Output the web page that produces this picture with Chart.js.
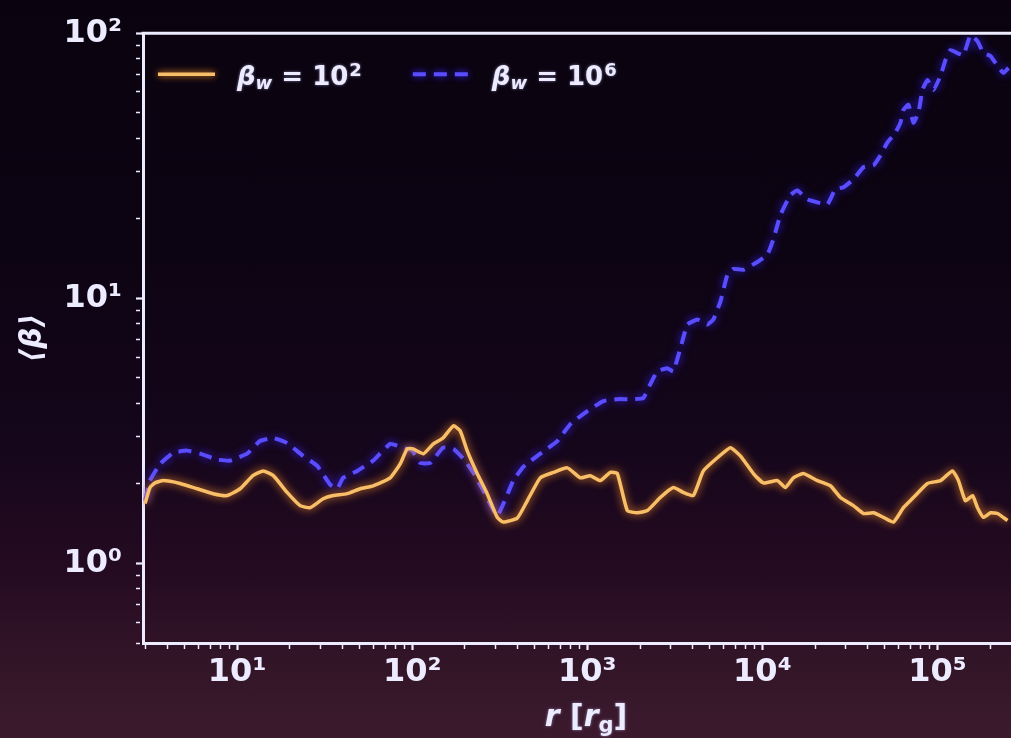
<!DOCTYPE html>
<html>
<head>
<meta charset="utf-8">
<script src="https://cdn.jsdelivr.net/npm/chart.js@4.4.1/dist/chart.umd.min.js"></script>
<style>
  html, body {
    margin: 0; padding: 0; width: 1011px; height: 738px; overflow: hidden;
    background: linear-gradient(180deg, #0a030f 0%, #0d0413 35%, #15061b 60%, #250b22 78%, #331528 90%, #3c1a2e 100%);
  }
  canvas { display: block; }
</style>
</head>
<body>
<canvas id="c" width="1040" height="738"></canvas>
<script>
// Mean plasma beta versus radius for two wind magnetisations.
const rWeak = [2.98, 3.18, 3.40, 3.78, 4.72, 5.91, 7.29, 8.77, 10.4, 12.3,
  14.1, 16.1, 19.3, 22.9, 26.1, 31.0, 35.4, 42.5, 50.5, 59.9,
  74.9, 85.4, 93.6, 101, 116, 132, 150, 172, 188, 206,
  235, 268, 306, 331, 398, 454, 539, 639, 769, 912,
  1040, 1187, 1353, 1484, 1693, 1931, 2203, 2612, 3101, 3537,
  4034, 4601, 5532, 6563, 7485, 8885, 10130, 12180, 13530, 15030,
  17150, 20620, 24470, 27910, 33110, 37770, 43080, 49130, 56070, 63930,
  72930, 87670, 104000, 121800, 131800, 144500, 158500, 169300, 183200, 200900,
  220300, 251200];
const betaWeak = [1.68, 1.93, 2.01, 2.05, 2.00, 1.91, 1.83, 1.80, 1.91, 2.14,
  2.23, 2.14, 1.85, 1.65, 1.62, 1.75, 1.80, 1.83, 1.91, 1.96,
  2.10, 2.37, 2.70, 2.70, 2.59, 2.82, 2.97, 3.30, 3.16, 2.66,
  2.18, 1.83, 1.49, 1.43, 1.48, 1.72, 2.10, 2.20, 2.29, 2.10,
  2.14, 2.05, 2.20, 2.18, 1.58, 1.55, 1.58, 1.77, 1.93, 1.85,
  1.80, 2.23, 2.50, 2.73, 2.54, 2.18, 2.01, 2.05, 1.93, 2.10,
  2.18, 2.05, 1.96, 1.77, 1.65, 1.54, 1.55, 1.49, 1.43, 1.62,
  1.77, 2.00, 2.05, 2.23, 2.05, 1.72, 1.80, 1.62, 1.49, 1.55,
  1.54, 1.45];

const rStrong = [2.98, 3.18, 3.63, 4.31, 5.18, 6.15, 7.69, 9.12, 11.4, 13.5,
  16.1, 19.3, 23.8, 28.7, 34.0, 37.3, 40.3, 48.5, 59.9, 74.9,
  88.8, 100, 111, 127, 150, 172, 196, 223, 255, 306,
  378, 431, 539, 674, 800, 1000, 1234, 1484, 1761, 2089,
  2291, 2512, 2865, 3101, 3400, 3727, 4252, 4850, 5248, 5754,
  6310, 6827, 7789, 9363, 10680, 11560, 12670, 14450, 15850, 18080,
  20620, 23520, 26130, 29030, 33110, 37770, 43080, 47230, 51810, 57540,
  61470, 63930, 68270, 72930, 77880, 82100, 87670, 94870, 104000, 111100,
  118700, 130100, 140800, 154400, 169300, 183200, 200900, 220300, 238300, 254500];
const betaStrong = [1.72, 2.05, 2.37, 2.61, 2.66, 2.59, 2.46, 2.44, 2.59, 2.89,
  2.97, 2.84, 2.54, 2.33, 1.98, 1.91, 2.10, 2.23, 2.44, 2.82,
  2.73, 2.66, 2.39, 2.39, 2.73, 2.70, 2.48, 2.20, 1.88, 1.51,
  2.05, 2.31, 2.59, 2.89, 3.35, 3.75, 4.09, 4.16, 4.16, 4.20,
  4.74, 5.30, 5.44, 5.30, 6.46, 7.95, 8.31, 7.95, 8.31, 9.70,
  12.25, 12.9, 12.8, 13.7, 14.6, 16.7, 20.6, 24.5, 25.5, 23.6,
  23.0, 22.6, 25.8, 26.2, 28.1, 31.2, 31.7, 34.6, 38.7, 42.2,
  46.0, 51.4, 53.7, 46.0, 50.1, 61.1, 66.6, 61.1, 69.0, 79.2,
  86.4, 84.1, 82.7, 98.3, 93.3, 84.1, 82.0, 75.2, 70.8, 73.9];

const seriesExponents = ['2', '6'];          // beta_w = 10^2, 10^6
const seriesLabels = ['βw = 10²', 'βw = 10⁶'];
const rRange = [2.9, 3e5];
const betaRange = [0.5, 100];

const FONT = "'DejaVu Sans', sans-serif";
const INK = '#ecebff';
const ORANGE = '#f8bf68';
const ORANGE_GLOW = 'rgba(255,150,40,0.95)';
const BLUE = '#5a4dff';
const BLUE_GLOW = 'rgba(55,35,255,1)';

const SUP = '⁰¹²³⁴⁵⁶⁷⁸⁹';
const supDigits = n => String(n).split('').map(d => SUP[+d]).join('');
const isDecade = v => { const e = Math.log10(v); return Math.abs(e - Math.round(e)) < 1e-6; };
function logTicks(min, max) {
  const out = [];
  for (let e = Math.floor(Math.log10(min)); e <= Math.ceil(Math.log10(max)); e++) {
    for (let k = 1; k < 10; k++) {
      const v = k * Math.pow(10, e);
      if (v >= min * 0.9999 && v <= max * 1.0001) out.push({ value: v, major: k === 1 });
    }
  }
  return out;
}
const decadeLabel = v => isDecade(v) ? '10' + supDigits(Math.round(Math.log10(v))) : '';

// soft halo round each curve
const glow = {
  id: 'glow',
  beforeDatasetDraw(chart, args) {
    const ctx = chart.ctx;
    ctx.save();
    ctx.shadowColor = chart.data.datasets[args.index].glowColor;
    ctx.shadowBlur = 9;
  },
  afterDatasetDraw(chart) { chart.ctx.restore(); }
};

// top and right edges of the axes box
const frame = {
  id: 'frame',
  afterDraw(chart) {
    const { ctx, chartArea: a } = chart;
    ctx.save();
    ctx.strokeStyle = INK; ctx.lineWidth = 3;
    ctx.beginPath();
    ctx.moveTo(a.left - 1.5, a.top); ctx.lineTo(a.right, a.top); ctx.lineTo(a.right, a.bottom);
    ctx.stroke();
    ctx.restore();
  }
};

// legend inside the axes, with sub- and superscripts
const richLegend = {
  id: 'richLegend',
  afterDraw(chart) {
    const { ctx, chartArea: a } = chart;
    const y = a.top + 41;
    let x = a.left + 15;
    ctx.save();
    chart.data.datasets.forEach((ds, i) => {
      ctx.save();
      ctx.strokeStyle = ds.borderColor; ctx.lineWidth = ds.borderWidth;
      ctx.setLineDash(ds.borderDash || []);
      ctx.shadowColor = ds.glowColor; ctx.shadowBlur = 7;
      ctx.beginPath(); ctx.moveTo(x, y); ctx.lineTo(x + 57, y); ctx.stroke();
      ctx.restore();
      x += 57 + 22;
      ctx.fillStyle = INK;
      ctx.shadowColor = 'rgba(200,200,255,0.6)'; ctx.shadowBlur = 3;
      ctx.textBaseline = 'alphabetic'; ctx.textAlign = 'left';
      ctx.font = `italic bold 26px ${FONT}`;
      ctx.fillText('β', x, y + 11); x += ctx.measureText('β').width;
      ctx.font = `italic bold 18px ${FONT}`;
      ctx.fillText('w', x, y + 15); x += ctx.measureText('w').width;
      ctx.font = `bold 26px ${FONT}`;
      ctx.fillText(' = 10', x, y + 11); x += ctx.measureText(' = 10').width;
      ctx.font = `bold 18px ${FONT}`;
      ctx.fillText(seriesExponents[i], x + 1, y + 2); x += ctx.measureText(seriesExponents[i]).width + 1;
      x += 51;
    });
    ctx.restore();
  }
};

// x-axis title r [r_g]
const xTitle = {
  id: 'xTitle',
  afterDraw(chart) {
    const { ctx, chartArea: a } = chart;
    const parts = [
      { t: 'r', f: `italic bold 30px ${FONT}`, dy: 0 },
      { t: ' [', f: `bold 30px ${FONT}`, dy: 0 },
      { t: 'r', f: `italic bold 30px ${FONT}`, dy: 0 },
      { t: 'g', f: `bold 21px ${FONT}`, dy: 6 },
      { t: ']', f: `bold 30px ${FONT}`, dy: 0 }
    ];
    ctx.save();
    let w = 0;
    parts.forEach(p => { ctx.font = p.f; p.w = ctx.measureText(p.t).width; w += p.w; });
    let x = (a.left + a.right) / 2 + 4 - w / 2;
    const base = chart.height - 12;
    ctx.fillStyle = INK; ctx.textBaseline = 'alphabetic'; ctx.textAlign = 'left';
    ctx.shadowColor = 'rgba(200,200,255,0.6)'; ctx.shadowBlur = 3;
    parts.forEach(p => { ctx.font = p.f; ctx.fillText(p.t, x, base + p.dy); x += p.w; });
    ctx.restore();
  }
};

const axisCommon = {
  type: 'logarithmic',
  border: { display: true, color: INK, width: 3 },
  grid: {
    display: true, drawOnChartArea: false, drawTicks: true, tickLength: 7,
    tickColor: INK,
    tickWidth: c => (c.tick && isDecade(c.tick.value)) ? 2.2 : 1.5,
    tickBorderDash: c => (c.tick && isDecade(c.tick.value)) ? [] : [4, 30]
  },
  afterBuildTicks: s => { s.ticks = logTicks(s.min, s.max); }
};

new Chart(document.getElementById('c'), {
  type: 'line',
  data: {
    datasets: [
      {
        label: seriesLabels[0],
        data: rWeak.map((r, i) => ({ x: r, y: betaWeak[i] })),
        borderColor: ORANGE, glowColor: ORANGE_GLOW, borderWidth: 3.5,
        pointRadius: 0, tension: 0.15, fill: false
      },
      {
        label: seriesLabels[1],
        data: rStrong.map((r, i) => ({ x: r, y: betaStrong[i] })),
        borderColor: BLUE, glowColor: BLUE_GLOW, borderWidth: 4, borderDash: [13, 8],
        pointRadius: 0, tension: 0.12, fill: false
      }
    ]
  },
  options: {
    responsive: false, animation: false, devicePixelRatio: 1,
    layout: { padding: { top: 29, right: 19, bottom: 0, left: 0 } },
    plugins: { legend: { display: false }, tooltip: { enabled: false } },
    scales: {
      x: Object.assign({}, axisCommon, {
        min: rRange[0], max: rRange[1],
        ticks: {
          autoSkip: false, maxRotation: 0, padding: 3, color: INK,
          font: { family: FONT, size: 32, weight: 'bold' },
          callback: v => decadeLabel(v)
        },
        afterFit: s => { s.height = 95; }
      }),
      y: Object.assign({}, axisCommon, {
        min: betaRange[0], max: betaRange[1],
        ticks: {
          autoSkip: false, padding: 14, color: INK,
          font: { family: FONT, size: 32, weight: 'bold' },
          callback: v => decadeLabel(v)
        },
        title: {
          display: true, text: '⟨β⟩', color: INK,
          font: { family: FONT, size: 30, weight: 'bold', style: 'italic' },
          padding: { top: 15, bottom: 0 }
        },
        afterFit: s => { s.width = 143; }
      })
    }
  },
  plugins: [glow, frame, richLegend, xTitle]
});
</script>
</body>
</html>
